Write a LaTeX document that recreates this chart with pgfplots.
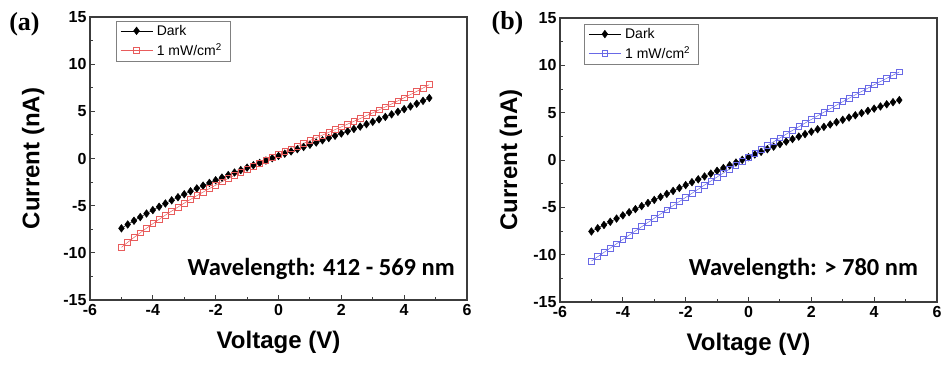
\documentclass[border=0pt]{standalone}
\usepackage{pgfplots}
\pgfplotsset{compat=1.18}
\usepackage{pgfplotstable}
\usepackage{fontspec}
\setmainfont{Liberation Sans}
\newfontfamily\timesf{Liberation Serif}
\newfontfamily\calib{Carlito}
\definecolor{myred}{RGB}{232,92,92}
\definecolor{myblue}{RGB}{105,105,230}
\definecolor{frm}{RGB}{60,60,60}
\newcommand\tl[1]{{\bfseries\fontsize{16}{17}\selectfont #1}}

\pgfplotstableread{
V dark light
-5.0 -7.403 -9.419
-4.8 -6.994 -8.888
-4.6 -6.596 -8.372
-4.4 -6.210 -7.871
-4.2 -5.835 -7.385
-4.0 -5.470 -6.912
-3.8 -5.115 -6.452
-3.6 -4.769 -6.005
-3.4 -4.433 -5.570
-3.2 -4.106 -5.147
-3.0 -3.786 -4.735
-2.8 -3.475 -4.334
-2.6 -3.172 -3.943
-2.4 -2.875 -3.562
-2.2 -2.585 -3.190
-2.0 -2.302 -2.827
-1.8 -2.025 -2.472
-1.6 -1.753 -2.125
-1.4 -1.486 -1.786
-1.2 -1.224 -1.453
-1.0 -0.967 -1.126
-0.8 -0.713 -0.805
-0.6 -0.463 -0.490
-0.4 -0.216 -0.179
-0.2 0.028 0.127
0.0 0.270 0.430
0.2 0.510 0.729
0.4 0.748 1.026
0.6 0.986 1.320
0.8 1.222 1.612
1.0 1.458 1.903
1.2 1.694 2.193
1.4 1.931 2.482
1.6 2.168 2.772
1.8 2.407 3.062
2.0 2.648 3.354
2.2 2.890 3.647
2.4 3.135 3.942
2.6 3.383 4.239
2.8 3.634 4.540
3.0 3.889 4.845
3.2 4.148 5.153
3.4 4.411 5.466
3.6 4.680 5.784
3.8 4.953 6.108
4.0 5.232 6.437
4.2 5.518 6.774
4.4 5.809 7.117
4.6 6.108 7.468
4.8 6.414 7.826
}\tA

\pgfplotstableread{
V dark light
-5.0 -7.550 -10.671
-4.8 -7.205 -10.214
-4.6 -6.863 -9.757
-4.4 -6.524 -9.302
-4.2 -6.187 -8.847
-4.0 -5.852 -8.394
-3.8 -5.520 -7.943
-3.6 -5.191 -7.493
-3.4 -4.864 -7.044
-3.2 -4.540 -6.597
-3.0 -4.218 -6.151
-2.8 -3.899 -5.707
-2.6 -3.582 -5.264
-2.4 -3.268 -4.824
-2.2 -2.957 -4.385
-2.0 -2.648 -3.948
-1.8 -2.342 -3.514
-1.6 -2.038 -3.081
-1.4 -1.737 -2.650
-1.2 -1.438 -2.222
-1.0 -1.142 -1.796
-0.8 -0.849 -1.372
-0.6 -0.558 -0.950
-0.4 -0.269 -0.531
-0.2 0.017 -0.114
0.0 0.300 0.300
0.2 0.581 0.712
0.4 0.859 1.120
0.6 1.135 1.526
0.8 1.408 1.930
1.0 1.678 2.330
1.2 1.946 2.727
1.4 2.211 3.122
1.6 2.474 3.513
1.8 2.734 3.901
2.0 2.992 4.286
2.2 3.247 4.668
2.4 3.500 5.046
2.6 3.750 5.421
2.8 3.997 5.793
3.0 4.242 6.160
3.2 4.484 6.525
3.4 4.724 6.885
3.6 4.961 7.242
3.8 5.196 7.596
4.0 5.428 7.945
4.2 5.658 8.290
4.4 5.885 8.632
4.6 6.109 8.969
4.8 6.331 9.302
}\tB

\pgfplotsset{myax/.style={
  scale only axis, width=377pt, height=283pt,
  xmin=-6, xmax=6, ymin=-15, ymax=15,
  xtick={-6,-4,...,6}, ytick={-15,-10,...,15},
  xticklabels={\tl{-6},\tl{-4},\tl{-2},\tl{0},\tl{2},\tl{4},\tl{6}},
  yticklabels={\tl{-15},\tl{-10},\tl{-5},\tl{0},\tl{5},\tl{10},\tl{15}},
  minor xtick={-5,-3,...,5}, minor ytick={-12.5,-7.5,...,12.5},
  tick align=inside, tick pos=left,
  major tick length=5pt, minor tick length=3pt,
  axis line style={frm, line width=1.2pt},
  every tick/.style={frm, line width=1pt},
  xticklabel style={yshift=-1pt},
  xlabel={Voltage (V)}, ylabel={Current (nA)},
  label style={font=\bfseries\fontsize{24}{25}\selectfont},
  xlabel style={at={(axis description cs:0.5,-0.17)}, anchor=base},
  legend cell align=left,
  legend style={draw=gray, line width=0.6pt, font=\fontsize{14}{16}\selectfont,
    inner xsep=4pt, inner ysep=2pt, row sep=3pt, anchor=north west,
    nodes={inner xsep=4pt}},
  legend image code/.code={\draw[mark repeat=2,mark phase=2] plot coordinates {(-2pt,0pt) (14pt,0pt) (30pt,0pt)};},
}}

\begin{document}
\begin{tikzpicture}
\path[use as bounding box] (0,0) rectangle (947pt,365pt);

\begin{axis}[myax, at={(90pt,65pt)}, anchor=south west,
  ylabel style={at={(axis description cs:-0.151,0.5)}, anchor=center},
  legend style={at={(axis description cs:0.069,0.987)}}]
\addplot[black, line width=0.5pt, mark=diamond*, mark size=3.8pt, mark options={solid, fill=black}] table[x=V, y=dark] {\tA};
\addlegendentry{Dark}
\addplot[myred, line width=0.5pt, mark=square, mark size=2.9pt, mark options={solid, line width=0.7pt}] table[x=V, y=light] {\tA};
\addlegendentry{1 mW/cm\textsuperscript{2}}
\node[anchor=base east, font=\calib\bfseries\fontsize{24.5}{26}\selectfont, inner sep=0pt] at (rel axis cs:0.968,0.088) {Wavelength: 412 - 569 nm};
\end{axis}

\begin{axis}[myax, at={(560pt,63pt)}, anchor=south west, height=284pt,
  ylabel style={at={(axis description cs:-0.13,0.5)}, anchor=center},
  legend style={at={(axis description cs:0.0645,0.979)}}]
\addplot[black, line width=0.5pt, mark=diamond*, mark size=3.8pt, mark options={solid, fill=black}] table[x=V, y=dark] {\tB};
\addlegendentry{Dark}
\addplot[myblue, line width=0.5pt, mark=square, mark size=2.9pt, mark options={solid, line width=0.7pt}] table[x=V, y=light] {\tB};
\addlegendentry{1 mW/cm\textsuperscript{2}}
\node[anchor=base east, font=\calib\bfseries\fontsize{24.5}{26}\selectfont, inner sep=0pt] at (rel axis cs:0.950,0.095) {Wavelength: > 780 nm};
\end{axis}

\node[font=\timesf\bfseries\fontsize{26}{28}\selectfont] at (24.5pt,341pt) {(a)};
\node[font=\timesf\bfseries\fontsize{26}{28}\selectfont] at (507.5pt,341.5pt) {(b)};
\end{tikzpicture}
\end{document}
